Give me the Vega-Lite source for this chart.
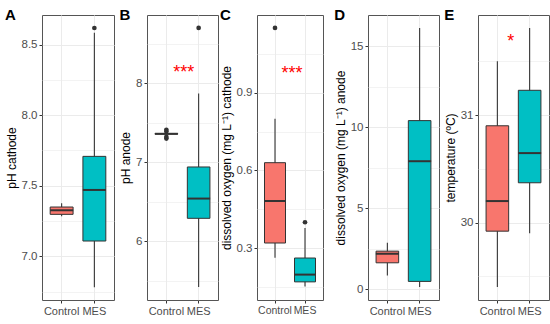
{
  "$schema": "https://vega.github.io/schema/vega-lite/v6.json",
  "padding": {"left": 4, "top": 7, "right": 0, "bottom": 0},
  "background": "white",
  "datasets": {
    "stats": [
      {"panel": "A", "group": "Control", "lower": 7.283, "q1": 7.297, "median": 7.326, "q3": 7.349, "upper": 7.375},
      {"panel": "A", "group": "MES", "lower": 6.78, "q1": 7.108, "median": 7.47, "q3": 7.708, "upper": 8.585},
      {"panel": "B", "group": "Control", "lower": 7.352, "q1": 7.356, "median": 7.36, "q3": 7.364, "upper": 7.368},
      {"panel": "B", "group": "MES", "lower": 5.42, "q1": 6.29, "median": 6.54, "q3": 6.94, "upper": 7.87},
      {"panel": "C", "group": "Control", "lower": 0.263, "q1": 0.32, "median": 0.482, "q3": 0.63, "upper": 0.8},
      {"panel": "C", "group": "MES", "lower": 0.152, "q1": 0.17, "median": 0.198, "q3": 0.262, "upper": 0.378},
      {"panel": "D", "group": "Control", "lower": 0.83, "q1": 1.62, "median": 2.18, "q3": 2.34, "upper": 2.86},
      {"panel": "D", "group": "MES", "lower": 0.12, "q1": 0.47, "median": 7.9, "q3": 10.41, "upper": 16.14},
      {"panel": "E", "group": "Control", "lower": 29.4, "q1": 29.92, "median": 30.2, "q3": 30.9, "upper": 31.5},
      {"panel": "E", "group": "MES", "lower": 29.9, "q1": 30.37, "median": 30.646, "q3": 31.23, "upper": 31.81}
    ],
    "outliers": [
      {"panel": "A", "group": "MES", "value": 8.618},
      {"panel": "B", "group": "MES", "value": 8.7},
      {"panel": "B", "group": "Control", "value": 7.3},
      {"panel": "B", "group": "Control", "value": 7.32},
      {"panel": "B", "group": "Control", "value": 7.39},
      {"panel": "B", "group": "Control", "value": 7.41},
      {"panel": "C", "group": "Control", "value": 1.15},
      {"panel": "C", "group": "MES", "value": 0.4}
    ],
    "stars": [
      {"panel": "B", "group": "MES", "value": 8.19, "label": "***"},
      {"panel": "C", "group": "MES", "value": 0.993, "label": "***"},
      {"panel": "E", "group": "MES", "value": 31.73, "label": "*"}
    ]
  },
  "spacing": 4,
  "hconcat": [
    {
      "width": 72, "height": 285,
      "title": {"text": "A"},
      "layer": [
        {"data": {"name": "stats"}, "transform": [{"filter": "datum.panel == 'A'"}],
         "mark": {"type": "rule", "color": "#333333", "strokeWidth": 1.1},
         "encoding": {
           "x": {"field": "group", "type": "nominal", "scale": {"domain": ["Control", "MES"], "paddingInner": 0.3, "paddingOuter": 0.25}, "axis": {"title": null, "labelAngle": 0, "grid": true, "bandPosition": 0.5}},
           "y": {"field": "lower", "type": "quantitative", "title": "pH cathode", "scale": {"domain": [6.69, 8.71], "nice": false, "zero": false},
                 "axis": {"values": [6.75, 7, 7.25, 7.5, 7.75, 8, 8.25, 8.5],
                          "labelExpr": "indexof([7, 7.5, 8, 8.5], datum.value) >= 0 ? format(datum.value, '.1f') : ''",
                          "tickOpacity": {"condition": {"test": "indexof([7, 7.5, 8, 8.5], datum.value) >= 0", "value": 1}, "value": 0},
                          "gridWidth": {"condition": {"test": "indexof([7, 7.5, 8, 8.5], datum.value) >= 0", "value": 1}, "value": 0.6}}},
           "y2": {"field": "upper"}
         }},
        {"data": {"name": "stats"}, "transform": [{"filter": "datum.panel == 'A'"}],
         "mark": {"type": "bar", "stroke": "#333333", "strokeWidth": 1},
         "encoding": {
           "x": {"field": "group", "type": "nominal"},
           "y": {"field": "q1", "type": "quantitative", "title": "pH cathode"},
           "y2": {"field": "q3"},
           "fill": {"field": "group", "type": "nominal", "scale": {"domain": ["Control", "MES"], "range": ["#F8766D", "#00BFC4"]}, "legend": null}
         }},
        {"data": {"name": "stats"}, "transform": [{"filter": "datum.panel == 'A'"}],
         "mark": {"type": "tick", "color": "#333333", "thickness": 2, "size": 23, "opacity": 1},
         "encoding": {"x": {"field": "group", "type": "nominal"}, "y": {"field": "median", "type": "quantitative", "title": "pH cathode"}}},
        {"data": {"name": "outliers"}, "transform": [{"filter": "datum.panel == 'A'"}],
         "mark": {"type": "point", "filled": true, "color": "#333333", "size": 22, "opacity": 1},
         "encoding": {"x": {"field": "group", "type": "nominal"}, "y": {"field": "value", "type": "quantitative", "title": "pH cathode"}}}
      ]
    },
    {
      "spacing": 0,
      "hconcat": [
        {
          "width": 71, "height": 285,
          "title": {"text": "B"},
          "layer": [
            {"data": {"name": "stats"}, "transform": [{"filter": "datum.panel == 'B'"}],
             "mark": {"type": "rule", "color": "#333333", "strokeWidth": 1.1},
             "encoding": {
               "x": {"field": "group", "type": "nominal", "scale": {"domain": ["Control", "MES"], "paddingInner": 0.3, "paddingOuter": 0.25}, "axis": {"title": null, "labelAngle": 0, "grid": true, "bandPosition": 0.5}},
               "y": {"field": "lower", "type": "quantitative", "title": "pH anode", "scale": {"domain": [5.256, 8.864], "nice": false, "zero": false},
                     "axis": {"values": [5.5, 6, 6.5, 7, 7.5, 8, 8.5],
                              "labelExpr": "indexof([6, 7, 8], datum.value) >= 0 ? format(datum.value, 'd') : ''",
                              "tickOpacity": {"condition": {"test": "indexof([6, 7, 8], datum.value) >= 0", "value": 1}, "value": 0},
                              "gridWidth": {"condition": {"test": "indexof([6, 7, 8], datum.value) >= 0", "value": 1}, "value": 0.6}}},
               "y2": {"field": "upper"}
             }},
            {"data": {"name": "stats"}, "transform": [{"filter": "datum.panel == 'B'"}],
             "mark": {"type": "bar", "stroke": "#333333", "strokeWidth": 1},
             "encoding": {
               "x": {"field": "group", "type": "nominal"},
               "y": {"field": "q1", "type": "quantitative", "title": "pH anode"},
               "y2": {"field": "q3"},
               "fill": {"field": "group", "type": "nominal", "scale": {"domain": ["Control", "MES"], "range": ["#F8766D", "#00BFC4"]}, "legend": null}
             }},
            {"data": {"name": "stats"}, "transform": [{"filter": "datum.panel == 'B'"}],
             "mark": {"type": "tick", "color": "#333333", "thickness": 2, "size": 23, "opacity": 1},
             "encoding": {"x": {"field": "group", "type": "nominal"}, "y": {"field": "median", "type": "quantitative", "title": "pH anode"}}},
            {"data": {"name": "outliers"}, "transform": [{"filter": "datum.panel == 'B'"}],
             "mark": {"type": "point", "filled": true, "color": "#333333", "size": 22, "opacity": 1},
             "encoding": {"x": {"field": "group", "type": "nominal"}, "y": {"field": "value", "type": "quantitative", "title": "pH anode"}}},
            {"data": {"name": "stars"}, "transform": [{"filter": "datum.panel == 'B'"}],
             "mark": {"type": "text", "color": "#FF0000", "fontSize": 18, "dx": -15, "dy": 5, "baseline": "middle"},
             "encoding": {"x": {"field": "group", "type": "nominal"}, "y": {"field": "value", "type": "quantitative", "title": "pH anode"}, "text": {"field": "label", "type": "nominal"}}}
          ]
        },
        {
          "spacing": 9,
          "hconcat": [
            {
              "width": 66, "height": 285,
              "title": {"text": "C"},
              "layer": [
                {"data": {"name": "stats"}, "transform": [{"filter": "datum.panel == 'C'"}],
                 "mark": {"type": "rule", "color": "#333333", "strokeWidth": 1.1},
                 "encoding": {
                   "x": {"field": "group", "type": "nominal", "scale": {"domain": ["Control", "MES"], "paddingInner": 0.3, "paddingOuter": 0.25}, "axis": {"title": null, "labelAngle": 0, "grid": true, "bandPosition": 0.5, "labelFontSize": 10.5}},
                   "y": {"field": "lower", "type": "quantitative", "title": "dissolved oxygen (mg L⁻¹) cathode", "scale": {"domain": [0.1, 1.2], "nice": false, "zero": false},
                         "axis": {"values": [0.15, 0.3, 0.45, 0.6, 0.75, 0.9, 1.05],
                                  "labelExpr": "indexof([0.3, 0.6, 0.9], datum.value) >= 0 ? format(datum.value, '.1f') : ''",
                                  "tickOpacity": {"condition": {"test": "indexof([0.3, 0.6, 0.9], datum.value) >= 0", "value": 1}, "value": 0},
                                  "gridWidth": {"condition": {"test": "indexof([0.3, 0.6, 0.9], datum.value) >= 0", "value": 1}, "value": 0.6}}},
                   "y2": {"field": "upper"}
                 }},
                {"data": {"name": "stats"}, "transform": [{"filter": "datum.panel == 'C'"}],
                 "mark": {"type": "bar", "stroke": "#333333", "strokeWidth": 1},
                 "encoding": {
                   "x": {"field": "group", "type": "nominal"},
                   "y": {"field": "q1", "type": "quantitative", "title": "dissolved oxygen (mg L⁻¹) cathode"},
                   "y2": {"field": "q3"},
                   "fill": {"field": "group", "type": "nominal", "scale": {"domain": ["Control", "MES"], "range": ["#F8766D", "#00BFC4"]}, "legend": null}
                 }},
                {"data": {"name": "stats"}, "transform": [{"filter": "datum.panel == 'C'"}],
                 "mark": {"type": "tick", "color": "#333333", "thickness": 2, "size": 21, "opacity": 1},
                 "encoding": {"x": {"field": "group", "type": "nominal"}, "y": {"field": "median", "type": "quantitative", "title": "dissolved oxygen (mg L⁻¹) cathode"}}},
                {"data": {"name": "outliers"}, "transform": [{"filter": "datum.panel == 'C'"}],
                 "mark": {"type": "point", "filled": true, "color": "#333333", "size": 22, "opacity": 1},
                 "encoding": {"x": {"field": "group", "type": "nominal"}, "y": {"field": "value", "type": "quantitative", "title": "dissolved oxygen (mg L⁻¹) cathode"}}},
                {"data": {"name": "stars"}, "transform": [{"filter": "datum.panel == 'C'"}],
                 "mark": {"type": "text", "color": "#FF0000", "fontSize": 18, "dx": -13, "dy": 5, "baseline": "middle"},
                 "encoding": {"x": {"field": "group", "type": "nominal"}, "y": {"field": "value", "type": "quantitative", "title": "dissolved oxygen (mg L⁻¹) cathode"}, "text": {"field": "label", "type": "nominal"}}}
              ]
            },
            {
              "spacing": 3,
              "hconcat": [
                {
                  "width": 71, "height": 285,
                  "title": {"text": "D"},
                  "layer": [
                    {"data": {"name": "stats"}, "transform": [{"filter": "datum.panel == 'D'"}],
                     "mark": {"type": "rule", "color": "#333333", "strokeWidth": 1.1},
                     "encoding": {
                       "x": {"field": "group", "type": "nominal", "scale": {"domain": ["Control", "MES"], "paddingInner": 0.3, "paddingOuter": 0.25}, "axis": {"title": null, "labelAngle": 0, "grid": true, "bandPosition": 0.5}},
                       "y": {"field": "lower", "type": "quantitative", "title": "dissolved oxygen (mg L⁻¹) anode", "scale": {"domain": [-0.68, 16.94], "nice": false, "zero": false},
                             "axis": {"values": [0, 2.5, 5, 7.5, 10, 12.5, 15],
                                      "labelExpr": "indexof([0, 5, 10, 15], datum.value) >= 0 ? format(datum.value, 'd') : ''",
                                      "tickOpacity": {"condition": {"test": "indexof([0, 5, 10, 15], datum.value) >= 0", "value": 1}, "value": 0},
                                      "gridWidth": {"condition": {"test": "indexof([0, 5, 10, 15], datum.value) >= 0", "value": 1}, "value": 0.6}}},
                       "y2": {"field": "upper"}
                     }},
                    {"data": {"name": "stats"}, "transform": [{"filter": "datum.panel == 'D'"}],
                     "mark": {"type": "bar", "stroke": "#333333", "strokeWidth": 1},
                     "encoding": {
                       "x": {"field": "group", "type": "nominal"},
                       "y": {"field": "q1", "type": "quantitative", "title": "dissolved oxygen (mg L⁻¹) anode"},
                       "y2": {"field": "q3"},
                       "fill": {"field": "group", "type": "nominal", "scale": {"domain": ["Control", "MES"], "range": ["#F8766D", "#00BFC4"]}, "legend": null}
                     }},
                    {"data": {"name": "stats"}, "transform": [{"filter": "datum.panel == 'D'"}],
                     "mark": {"type": "tick", "color": "#333333", "thickness": 2, "size": 23, "opacity": 1},
                     "encoding": {"x": {"field": "group", "type": "nominal"}, "y": {"field": "median", "type": "quantitative", "title": "dissolved oxygen (mg L⁻¹) anode"}}}
                  ]
                },
                {
                  "width": 71, "height": 285,
                  "title": {"text": "E"},
                  "layer": [
                    {"data": {"name": "stats"}, "transform": [{"filter": "datum.panel == 'E'"}],
                     "mark": {"type": "rule", "color": "#333333", "strokeWidth": 1.1},
                     "encoding": {
                       "x": {"field": "group", "type": "nominal", "scale": {"domain": ["Control", "MES"], "paddingInner": 0.3, "paddingOuter": 0.25}, "axis": {"title": null, "labelAngle": 0, "grid": true, "bandPosition": 0.5}},
                       "y": {"field": "lower", "type": "quantitative", "title": "temperature (ºC)", "scale": {"domain": [29.28, 31.93], "nice": false, "zero": false},
                             "axis": {"values": [29.5, 30, 30.5, 31, 31.5],
                                      "labelExpr": "indexof([30, 31], datum.value) >= 0 ? format(datum.value, 'd') : ''",
                                      "tickOpacity": {"condition": {"test": "indexof([30, 31], datum.value) >= 0", "value": 1}, "value": 0},
                                      "gridWidth": {"condition": {"test": "indexof([30, 31], datum.value) >= 0", "value": 1}, "value": 0.6}}},
                       "y2": {"field": "upper"}
                     }},
                    {"data": {"name": "stats"}, "transform": [{"filter": "datum.panel == 'E'"}],
                     "mark": {"type": "bar", "stroke": "#333333", "strokeWidth": 1},
                     "encoding": {
                       "x": {"field": "group", "type": "nominal"},
                       "y": {"field": "q1", "type": "quantitative", "title": "temperature (ºC)"},
                       "y2": {"field": "q3"},
                       "fill": {"field": "group", "type": "nominal", "scale": {"domain": ["Control", "MES"], "range": ["#F8766D", "#00BFC4"]}, "legend": null}
                     }},
                    {"data": {"name": "stats"}, "transform": [{"filter": "datum.panel == 'E'"}],
                     "mark": {"type": "tick", "color": "#333333", "thickness": 2, "size": 23, "opacity": 1},
                     "encoding": {"x": {"field": "group", "type": "nominal"}, "y": {"field": "median", "type": "quantitative", "title": "temperature (ºC)"}}},
                    {"data": {"name": "stars"}, "transform": [{"filter": "datum.panel == 'E'"}],
                     "mark": {"type": "text", "color": "#FF0000", "fontSize": 18, "dx": -19, "dy": 5, "baseline": "middle"},
                     "encoding": {"x": {"field": "group", "type": "nominal"}, "y": {"field": "value", "type": "quantitative", "title": "temperature (ºC)"}, "text": {"field": "label", "type": "nominal"}}}
                  ]
                }
              ]
            }
          ]
        }
      ]
    }
  ],
  "config": {
    "font": "Liberation Sans",
    "view": {"stroke": "#555555", "strokeWidth": 1},
    "axis": {"domain": false, "tickColor": "#333333", "tickSize": 3, "labelColor": "#4D4D4D", "labelFontSize": 11.5, "labelFont": "Liberation Sans", "titleFont": "Liberation Sans", "titleFontSize": 12, "titleFontWeight": "normal", "titleColor": "#000000", "gridColor": "#EBEBEB", "labelPadding": 2, "titlePadding": 3},
    "axisX": {"labelFontSize": 11},
    "title": {"fontSize": 15, "fontWeight": "bold", "anchor": "start", "frame": "bounds", "offset": -2, "dy": 6, "font": "Liberation Sans", "color": "#000000"}
  }
}
